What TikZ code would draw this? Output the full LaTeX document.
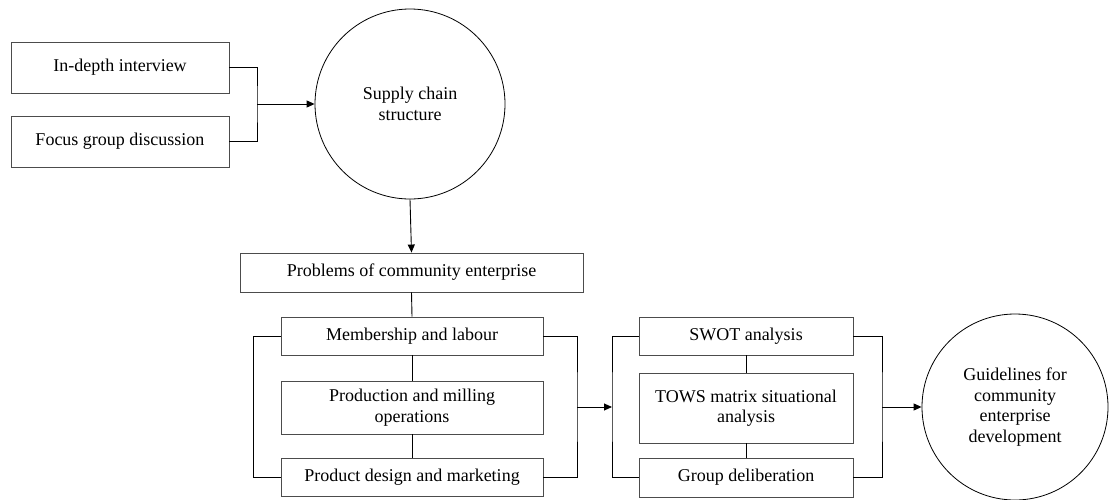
\documentclass[tikz,border=0pt]{standalone}
\usepackage{fontspec}
\setmainfont{Liberation Serif}
\usetikzlibrary{arrows.meta}
\begin{document}
\begin{tikzpicture}[x=1pt,y=-1pt,
  every node/.style={font=\fontsize{18}{20.5}\selectfont, align=center, inner sep=0pt},
  box/.style={draw=black!70, line width=0.9pt, rectangle},
  bubble/.style={draw=black, line width=0.8pt, circle},
  link/.style={draw=black, line width=0.9pt},
  arr/.style={link, -{Triangle[length=8pt,width=7pt]}}
]
\useasboundingbox (0,0) rectangle (1109,499);

% data collection
\node[box, minimum width=218pt, minimum height=51pt] (interview) at (120,67.5) {In-depth interview};
\node[box, minimum width=218pt, minimum height=51pt] (focus) at (120,141.5) {Focus group discussion};
\node[bubble, minimum size=190pt] (supply) at (410,104) {Supply chain\\structure};

% problems of the enterprise
\node[box, minimum width=343pt, minimum height=39pt] (problems) at (411.5,272.5) {Problems of community enterprise};
\node[box, minimum width=262pt, minimum height=38pt] (member) at (412,336) {Membership and labour};
\node[box, minimum width=262pt, minimum height=53pt] (production) at (412,407.5) {Production and milling\\operations};
\node[box, minimum width=262pt, minimum height=38pt] (design) at (412,477) {Product design and marketing};

% analysis
\node[box, minimum width=214pt, minimum height=38pt] (swot) at (746,336) {SWOT analysis};
\node[box, minimum width=214pt, minimum height=70pt] (tows) at (746,408) {TOWS matrix situational\\analysis};
\node[box, minimum width=214pt, minimum height=39pt] (group) at (746,477.5) {Group deliberation};

% outcome
\node[bubble, minimum size=186pt] (guide) at (1015,407) {Guidelines for\\community\\enterprise\\development};

% junction points
\coordinate (j1) at (257,104);
\coordinate (j2) at (577,407);
\coordinate (j3) at (612,407);
\coordinate (j4) at (882,407);

% data collection feeds the supply chain study
\draw[link] (interview.east) -| (j1) |- (focus.east);
\draw[arr] (j1) -- (supply.west);
\draw[arr] (supply.south) -- (problems.north);

% problem chain
\draw[link] (problems.south) -- (member.north);
\draw[link] (member.south) -- (production.north);
\draw[link] (production.south) -- (design.north);
\draw[link] (member.west) -- ++(-27,0) |- (design.west);
\draw[link] (member.east) -| (j2) |- (design.east);
\draw[arr] (j2) -- (j3);

% analysis chain
\draw[link] (swot.south) -- (tows.north);
\draw[link] (tows.south) -- (group.north);
\draw[link] (swot.west) -| (j3) |- (group.west);
\draw[link] (swot.east) -| (j4) |- (group.east);
\draw[arr] (j4) -- (guide.west);
\end{tikzpicture}
\end{document}
